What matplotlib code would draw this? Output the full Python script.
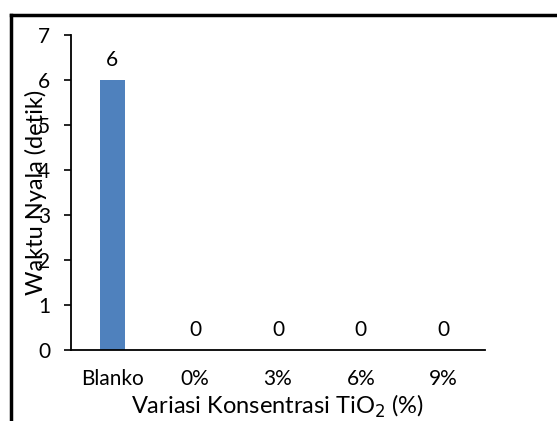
import matplotlib
matplotlib.use('Agg')
import matplotlib.pyplot as plt
from matplotlib.lines import Line2D

plt.rcParams['font.family'] = ['Lato', 'DejaVu Sans']

kategori = ['Blanko', '0%', '3%', '6%', '9%']
waktu_nyala = [6, 0, 0, 0, 0]

W, H = 557, 421
fig = plt.figure(figsize=(W / 100, H / 100), dpi=100)

# area plot dalam piksel
x0, x1 = 71, 485
y0, y1 = 350, 35
ax = fig.add_axes([x0 / W, 1 - y0 / H, (x1 - x0) / W, (y0 - y1) / H])

pos = range(len(kategori))
ax.bar(pos, waktu_nyala, width=0.31, color='#4f81bd')
for i, v in enumerate(waktu_nyala):
    ax.text(i, v + 0.22, str(v), ha='center', va='bottom', fontsize=15)

ax.set_xlim(-0.5, len(kategori) - 0.5)
ax.set_ylim(0, 7)
ax.set_yticks(range(8))
ax.set_xticks(list(pos))
ax.set_xticklabels(kategori, fontsize=15)
ax.tick_params(axis='x', length=0, pad=14)
ax.tick_params(axis='y', direction='out', length=5, width=1.2, labelsize=15, pad=10)

for s in ['top', 'right']:
    ax.spines[s].set_visible(False)
for s in ['left', 'bottom']:
    ax.spines[s].set_linewidth(1.3)
    ax.spines[s].set_color('black')

ax.set_xlabel('Variasi Konsentrasi TiO$_2$ (%)', fontsize=17)
ax.xaxis.set_label_coords(0.5, -0.137)
ax.set_ylabel('Waktu Nyala (detik)', fontsize=17)
ax.yaxis.set_label_coords(-0.058, 0.5)

# bingkai luar (atas dan kiri)
fig.add_artist(Line2D([11 / W, 1], [1 - 15 / H, 1 - 15 / H], color='black', lw=2.5))
fig.add_artist(Line2D([11 / W, 11 / W], [1 - 15 / H, 0], color='black', lw=2.5))

fig.savefig('out.png', dpi=100)
